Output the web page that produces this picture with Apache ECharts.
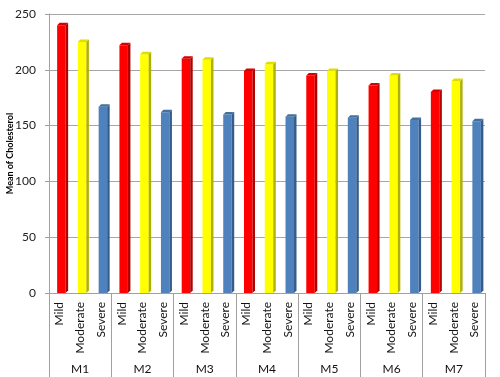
<!DOCTYPE html>
<html>
<head>
<meta charset="utf-8">
<script src="https://cdn.jsdelivr.net/npm/echarts@6/dist/echarts.min.js"></script>
<style>html,body{margin:0;padding:0;background:#fff}#c{width:500px;height:377px}</style>
</head>
<body>
<div id="c"></div>
<script>
const groups = ['M1', 'M2', 'M3', 'M4', 'M5', 'M6', 'M7'];
const severities = ['Mild', 'Moderate', 'Severe'];
const mild = [240, 222, 210, 199, 195, 186, 180];
const moderate = [225, 214, 209, 205, 199, 195, 190];
const severe = [167, 162, 160, 158, 157, 155, 154];
const yTicks = [0, 50, 100, 150, 200, 250];

const seriesValues = [mild, moderate, severe];
const colors = [
  { front: '#ff0000', side: '#b00000', top: '#d80000' },
  { front: '#ffff00', side: '#b0b000', top: '#dede00' },
  { front: '#4f81bd', side: '#355d8c', top: '#42709f' }
];

const cats = [];
groups.forEach(() => severities.forEach(s => cats.push(s)));

function render(c) {
  return function (params, api) {
    const x = api.value(0), v = api.value(1);
    const p0 = api.coord([x, 0]);
    const p1 = api.coord([x, v]);
    const w = 8.5, d = 2.5, cx = p0[0] + 2;
    const l = cx - w / 2, r = cx + w / 2;
    return {
      type: 'group', children: [
        { type: 'rect', shape: { x: l, y: p1[1], width: w, height: p0[1] - p1[1] }, style: { fill: c.front } },
        { type: 'polygon', shape: { points: [[r, p1[1]], [r + d, p1[1] - d], [r + d, p0[1] - d], [r, p0[1]]] }, style: { fill: c.side } },
        { type: 'polygon', shape: { points: [[l, p1[1]], [l + d, p1[1] - d], [r + d, p1[1] - d], [r, p1[1]]] }, style: { fill: c.top } }
      ]
    };
  };
}

const series = severities.map((s, si) => ({
  name: s,
  type: 'custom',
  xAxisIndex: 0,
  yAxisIndex: 0,
  renderItem: render(colors[si]),
  encode: { x: 0, y: 1 },
  data: seriesValues[si].map((v, g) => [g * 3 + si, v])
}));

const chart = echarts.init(document.getElementById('c'), null, { renderer: 'canvas' });
chart.setOption({
  animation: false,
  grid: { left: 49, right: 15, top: 14, bottom: 84, containLabel: false, outerBoundsMode: 'none' },
  xAxis: [
    {
      type: 'category',
      data: cats,
      position: 'bottom',
      axisLine: { show: true, lineStyle: { color: '#a0a0a0', width: 1 } },
      axisTick: { show: false },
      axisLabel: { interval: 0, rotate: 90, margin: 9, fontSize: 12, color: '#111', fontFamily: 'Lato' }
    },
    {
      type: 'category',
      data: groups,
      position: 'bottom',
      axisLine: { show: false },
      axisTick: { show: true, length: 84, interval: 0, lineStyle: { color: '#a0a0a0', width: 1 } },
      axisLabel: { interval: 0, margin: 70, fontSize: 12, color: '#111', fontFamily: 'Lato' }
    }
  ],
  yAxis: {
    type: 'value',
    min: 0,
    max: 250,
    interval: 50,
    name: 'Mean of Cholesterol',
    nameLocation: 'middle',
    nameGap: 34,
    nameMoveOverlap: false,
    nameTextStyle: { fontSize: 9, fontWeight: 'bold', color: '#000', fontFamily: 'Lato' },
    axisLine: { show: true, lineStyle: { color: '#a0a0a0', width: 1 } },
    axisTick: { show: true, length: 4, lineStyle: { color: '#a0a0a0' } },
    axisLabel: { fontSize: 12, color: '#222', margin: 13, fontFamily: 'Lato',
      formatter: v => yTicks.includes(v) ? String(v) : '' },
    splitLine: { show: true, lineStyle: { color: '#a6a6a6', width: 1 } }
  },
  series: series
});
</script>
</body>
</html>
